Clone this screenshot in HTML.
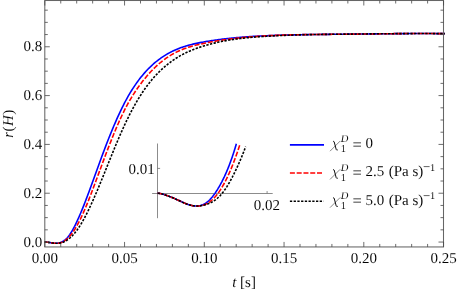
<!DOCTYPE html>
<html><head><meta charset="utf-8"><title>plot</title>
<style>html,body{margin:0;padding:0;background:#fff}svg{display:block;will-change:transform;opacity:0.999}text{text-rendering:geometricPrecision}.tx,.tx text,.tx tspan{font-family:"Liberation Serif",serif}</style></head>
<body>
<svg width="457" height="291" viewBox="0 0 457 291">
<rect width="457" height="291" fill="#fff"/>
<clipPath id="c"><rect x="44.0" y="0.5" width="400.8" height="246.45"/></clipPath>
<g fill="none" clip-path="url(#c)" stroke-linejoin="round">
<path d="M44.20,242.05 L44.80,242.05 L45.20,242.05 L45.60,242.07 L46.01,242.10 L46.41,242.14 L46.81,242.19 L47.21,242.24 L47.61,242.28 L48.02,242.33 L48.42,242.38 L48.82,242.43 L49.22,242.49 L49.63,242.54 L50.03,242.60 L50.43,242.67 L50.83,242.73 L51.23,242.79 L51.64,242.86 L52.04,242.92 L52.44,242.98 L52.84,243.04 L53.24,243.09 L53.65,243.14 L54.05,243.19 L54.45,243.23 L54.85,243.26 L55.25,243.28 L55.66,243.30 L56.06,243.30 L56.46,243.30 L56.86,243.28 L57.27,243.25 L57.67,243.21 L58.07,243.15 L58.47,243.09 L58.87,243.00 L59.28,242.90 L59.68,242.78 L60.08,242.65 L60.48,242.50 L60.88,242.34 L61.29,242.16 L61.69,241.97 L62.09,241.76 L62.49,241.54 L62.89,241.31 L63.30,241.06 L63.70,240.80 L64.10,240.52 L64.50,240.24 L64.91,239.93 L65.31,239.61 L65.71,239.26 L66.11,238.90 L66.51,238.52 L66.92,238.11 L67.32,237.68 L67.72,237.23 L68.12,236.75 L68.52,236.25 L68.93,235.73 L69.33,235.18 L69.73,234.62 L70.13,234.03 L70.53,233.42 L70.94,232.80 L71.34,232.15 L71.74,231.49 L72.14,230.80 L72.54,230.11 L72.95,229.39 L73.35,228.66 L73.75,227.91 L74.15,227.14 L74.56,226.37 L74.96,225.57 L75.36,224.77 L75.76,223.95 L76.16,223.11 L76.57,222.27 L76.97,221.41 L77.37,220.55 L77.77,219.67 L78.17,218.78 L78.58,217.88 L78.98,216.97 L79.38,216.06 L79.78,215.13 L80.18,214.19 L80.59,213.24 L80.99,212.29 L81.39,211.32 L81.79,210.35 L82.20,209.37 L82.60,208.38 L83.00,207.38 L83.40,206.38 L83.80,205.36 L84.21,204.34 L84.61,203.32 L85.01,202.29 L85.41,201.25 L85.81,200.20 L86.22,199.15 L86.62,198.10 L87.02,197.04 L87.42,195.97 L87.82,194.90 L88.23,193.83 L88.63,192.75 L89.03,191.66 L89.43,190.57 L89.84,189.48 L90.24,188.39 L90.64,187.29 L91.04,186.19 L91.44,185.09 L91.85,183.98 L92.25,182.87 L92.65,181.77 L93.83,178.50 L95.01,175.23 L96.19,171.96 L97.37,168.69 L98.55,165.43 L99.73,162.19 L100.91,158.97 L102.09,155.77 L103.27,152.61 L104.45,149.48 L105.63,146.39 L106.81,143.32 L107.99,140.30 L109.17,137.32 L110.35,134.37 L111.53,131.48 L112.71,128.62 L113.89,125.81 L115.07,123.06 L116.25,120.35 L117.43,117.69 L118.61,115.09 L119.79,112.55 L120.97,110.06 L122.15,107.64 L123.33,105.28 L124.51,102.98 L125.69,100.75 L126.87,98.58 L128.05,96.47 L129.23,94.43 L130.41,92.45 L131.59,90.53 L132.77,88.66 L133.95,86.85 L135.13,85.10 L136.31,83.40 L137.49,81.75 L138.67,80.15 L139.85,78.60 L141.03,77.10 L142.21,75.65 L143.39,74.24 L144.57,72.88 L145.75,71.56 L146.93,70.28 L148.11,69.05 L149.29,67.86 L150.47,66.70 L151.65,65.59 L152.83,64.51 L154.01,63.47 L155.19,62.47 L156.37,61.50 L157.55,60.56 L158.73,59.66 L159.91,58.79 L161.09,57.95 L162.27,57.14 L163.45,56.36 L164.63,55.61 L165.81,54.88 L166.99,54.18 L168.17,53.51 L169.35,52.86 L170.53,52.24 L171.71,51.64 L172.89,51.06 L174.07,50.51 L175.25,49.98 L176.43,49.47 L177.61,48.98 L178.79,48.51 L179.97,48.05 L181.15,47.62 L182.33,47.20 L183.51,46.81 L184.69,46.42 L185.87,46.06 L187.05,45.70 L188.23,45.37 L189.41,45.04 L190.59,44.73 L191.77,44.43 L192.95,44.15 L194.13,43.87 L195.31,43.61 L196.49,43.35 L197.67,43.10 L198.85,42.86 L200.03,42.63 L201.21,42.41 L202.39,42.19 L203.57,41.98 L204.75,41.77 L205.93,41.57 L207.11,41.37 L208.29,41.17 L209.47,40.98 L210.65,40.80 L211.83,40.62 L213.01,40.44 L214.19,40.26 L215.37,40.10 L216.55,39.93 L217.73,39.77 L218.91,39.61 L220.09,39.46 L221.27,39.30 L222.45,39.16 L223.63,39.01 L224.81,38.87 L225.99,38.74 L227.17,38.60 L228.35,38.47 L229.53,38.35 L230.71,38.23 L231.89,38.10 L233.07,37.99 L234.25,37.87 L235.43,37.76 L236.61,37.66 L237.79,37.55 L238.97,37.45 L240.15,37.35 L241.33,37.25 L242.51,37.16 L243.69,37.07 L244.87,36.98 L246.05,36.89 L247.23,36.81 L248.41,36.73 L249.59,36.65 L250.77,36.57 L251.95,36.49 L253.13,36.42 L254.31,36.35 L255.49,36.28 L256.67,36.21 L257.85,36.15 L259.03,36.09 L260.21,36.03 L261.39,35.97 L262.57,35.91 L263.75,35.85 L264.93,35.80 L266.11,35.74 L267.29,35.69 L268.47,35.64 L269.65,35.59 L270.83,35.55 L272.01,35.50 L273.19,35.45 L274.37,35.41 L275.55,35.37 L276.73,35.33 L277.91,35.29 L279.09,35.25 L280.27,35.21 L281.45,35.17 L282.63,35.14 L283.81,35.10 L284.99,35.07 L286.17,35.04 L287.35,35.00 L288.53,34.97 L289.71,34.94 L290.89,34.91 L292.07,34.89 L293.25,34.86 L294.43,34.83 L295.61,34.81 L296.79,34.78 L297.97,34.76 L299.15,34.74 L300.33,34.71 L301.51,34.69 L302.69,34.67 L303.87,34.65 L305.05,34.63 L306.23,34.61 L307.41,34.60 L308.59,34.58 L309.77,34.56 L310.95,34.54 L312.13,34.53 L313.31,34.51 L314.49,34.50 L315.67,34.48 L316.85,34.47 L318.03,34.45 L319.21,34.44 L320.39,34.43 L321.57,34.41 L322.75,34.40 L323.93,34.39 L325.11,34.38 L326.29,34.37 L327.47,34.35 L328.65,34.34 L329.83,34.33 L331.01,34.32 L332.19,34.31 L333.37,34.30 L334.55,34.29 L335.73,34.28 L336.91,34.27 L338.09,34.26 L339.27,34.24 L340.45,34.23 L341.63,34.22 L342.81,34.21 L343.99,34.20 L345.17,34.19 L346.35,34.18 L347.53,34.17 L348.71,34.16 L349.89,34.14 L351.07,34.13 L352.25,34.12 L353.43,34.11 L354.61,34.09 L355.79,34.08 L356.97,34.07 L358.15,34.06 L359.33,34.04 L360.51,34.03 L361.69,34.02 L362.87,34.00 L364.05,33.99 L365.23,33.98 L366.41,33.96 L367.59,33.95 L368.77,33.94 L369.95,33.92 L371.13,33.91 L372.31,33.90 L373.49,33.88 L374.67,33.87 L375.85,33.86 L377.03,33.84 L378.21,33.83 L379.39,33.82 L380.57,33.80 L381.75,33.79 L382.93,33.78 L384.11,33.77 L385.29,33.75 L386.47,33.74 L387.64,33.73 L388.82,33.72 L390.00,33.71 L391.18,33.70 L392.36,33.69 L393.54,33.68 L394.72,33.67 L395.90,33.66 L397.08,33.65 L398.26,33.64 L399.44,33.63 L400.62,33.62 L401.80,33.61 L402.98,33.60 L404.16,33.60 L405.34,33.59 L406.52,33.58 L407.70,33.58 L408.88,33.57 L410.06,33.56 L411.24,33.56 L412.42,33.55 L413.60,33.55 L414.78,33.55 L415.96,33.54 L417.14,33.54 L418.32,33.54 L419.50,33.54 L420.68,33.54 L421.86,33.54 L423.04,33.54 L424.22,33.54 L425.40,33.54 L426.58,33.54 L427.76,33.54 L428.94,33.55 L430.12,33.55 L431.30,33.55 L432.48,33.56 L433.66,33.57 L434.84,33.57 L436.02,33.58 L437.20,33.59 L438.38,33.60 L439.56,33.61 L440.74,33.62 L441.92,33.63 L443.10,33.64 L444.28,33.65 L445.46,33.67" stroke="#0000ff" stroke-width="1.6"/>
<path d="M44.20,242.05 L44.80,242.05 L45.20,242.05 L45.60,242.07 L46.01,242.10 L46.41,242.14 L46.81,242.19 L47.21,242.23 L47.61,242.28 L48.02,242.33 L48.42,242.38 L48.82,242.44 L49.22,242.49 L49.63,242.55 L50.03,242.61 L50.43,242.67 L50.83,242.73 L51.23,242.79 L51.64,242.86 L52.04,242.92 L52.44,242.98 L52.84,243.03 L53.24,243.09 L53.65,243.14 L54.05,243.18 L54.45,243.22 L54.85,243.25 L55.25,243.28 L55.66,243.29 L56.06,243.30 L56.46,243.31 L56.86,243.30 L57.27,243.28 L57.67,243.25 L58.07,243.22 L58.47,243.17 L58.87,243.11 L59.28,243.04 L59.68,242.96 L60.08,242.86 L60.48,242.75 L60.88,242.63 L61.29,242.49 L61.69,242.35 L62.09,242.18 L62.49,242.00 L62.89,241.81 L63.30,241.60 L63.70,241.38 L64.10,241.14 L64.50,240.89 L64.91,240.62 L65.31,240.34 L65.71,240.04 L66.11,239.73 L66.51,239.40 L66.92,239.05 L67.32,238.70 L67.72,238.32 L68.12,237.93 L68.52,237.53 L68.93,237.11 L69.33,236.68 L69.73,236.23 L70.13,235.77 L70.53,235.29 L70.94,234.79 L71.34,234.29 L71.74,233.76 L72.14,233.23 L72.54,232.68 L72.95,232.11 L73.35,231.53 L73.75,230.94 L74.15,230.33 L74.56,229.70 L74.96,229.07 L75.36,228.41 L75.76,227.75 L76.16,227.07 L76.57,226.37 L76.97,225.66 L77.37,224.94 L77.77,224.20 L78.17,223.45 L78.58,222.69 L78.98,221.92 L79.38,221.13 L79.78,220.33 L80.18,219.51 L80.59,218.69 L80.99,217.85 L81.39,217.00 L81.79,216.15 L82.20,215.28 L82.60,214.40 L83.00,213.51 L83.40,212.60 L83.80,211.69 L84.21,210.77 L84.61,209.85 L85.01,208.91 L85.41,207.96 L85.81,207.00 L86.22,206.04 L86.62,205.07 L87.02,204.09 L87.42,203.10 L87.82,202.11 L88.23,201.11 L88.63,200.10 L89.03,199.09 L89.43,198.07 L89.84,197.04 L90.24,196.01 L90.64,194.97 L91.04,193.93 L91.44,192.88 L91.85,191.83 L92.25,190.77 L92.65,189.71 L93.83,186.58 L95.01,183.42 L96.19,180.24 L97.37,177.05 L98.55,173.85 L99.73,170.65 L100.91,167.46 L102.09,164.28 L103.27,161.11 L104.45,157.96 L105.63,154.84 L106.81,151.73 L107.99,148.66 L109.17,145.61 L110.35,142.60 L111.53,139.62 L112.71,136.68 L113.89,133.79 L115.07,130.94 L116.25,128.14 L117.43,125.39 L118.61,122.70 L119.79,120.06 L120.97,117.49 L122.15,114.98 L123.33,112.53 L124.51,110.16 L125.69,107.85 L126.87,105.62 L128.05,103.46 L129.23,101.36 L130.41,99.32 L131.59,97.35 L132.77,95.43 L133.95,93.57 L135.13,91.76 L136.31,90.00 L137.49,88.28 L138.67,86.61 L139.85,84.99 L141.03,83.40 L142.21,81.85 L143.39,80.34 L144.57,78.87 L145.75,77.44 L146.93,76.04 L148.11,74.67 L149.29,73.35 L150.47,72.06 L151.65,70.81 L152.83,69.59 L154.01,68.40 L155.19,67.26 L156.37,66.14 L157.55,65.06 L158.73,64.02 L159.91,63.00 L161.09,62.03 L162.27,61.08 L163.45,60.17 L164.63,59.29 L165.81,58.44 L166.99,57.62 L168.17,56.84 L169.35,56.08 L170.53,55.35 L171.71,54.66 L172.89,53.98 L174.07,53.34 L175.25,52.72 L176.43,52.12 L177.61,51.55 L178.79,51.01 L179.97,50.48 L181.15,49.98 L182.33,49.49 L183.51,49.03 L184.69,48.59 L185.87,48.16 L187.05,47.75 L188.23,47.36 L189.41,46.99 L190.59,46.63 L191.77,46.28 L192.95,45.95 L194.13,45.63 L195.31,45.32 L196.49,45.02 L197.67,44.74 L198.85,44.46 L200.03,44.19 L201.21,43.93 L202.39,43.67 L203.57,43.42 L204.75,43.18 L205.93,42.94 L207.11,42.71 L208.29,42.48 L209.47,42.26 L210.65,42.04 L211.83,41.82 L213.01,41.61 L214.19,41.40 L215.37,41.20 L216.55,41.00 L217.73,40.81 L218.91,40.62 L220.09,40.44 L221.27,40.25 L222.45,40.08 L223.63,39.90 L224.81,39.73 L225.99,39.57 L227.17,39.41 L228.35,39.25 L229.53,39.09 L230.71,38.94 L231.89,38.80 L233.07,38.65 L234.25,38.51 L235.43,38.38 L236.61,38.24 L237.79,38.11 L238.97,37.99 L240.15,37.86 L241.33,37.74 L242.51,37.63 L243.69,37.51 L244.87,37.40 L246.05,37.29 L247.23,37.19 L248.41,37.09 L249.59,36.99 L250.77,36.89 L251.95,36.80 L253.13,36.70 L254.31,36.62 L255.49,36.53 L256.67,36.45 L257.85,36.36 L259.03,36.29 L260.21,36.21 L261.39,36.13 L262.57,36.06 L263.75,35.99 L264.93,35.92 L266.11,35.86 L267.29,35.79 L268.47,35.73 L269.65,35.67 L270.83,35.61 L272.01,35.56 L273.19,35.50 L274.37,35.45 L275.55,35.40 L276.73,35.35 L277.91,35.30 L279.09,35.26 L280.27,35.21 L281.45,35.17 L282.63,35.13 L283.81,35.09 L284.99,35.05 L286.17,35.01 L287.35,34.98 L288.53,34.94 L289.71,34.91 L290.89,34.88 L292.07,34.85 L293.25,34.82 L294.43,34.79 L295.61,34.77 L296.79,34.74 L297.97,34.72 L299.15,34.69 L300.33,34.67 L301.51,34.65 L302.69,34.63 L303.87,34.61 L305.05,34.59 L306.23,34.57 L307.41,34.56 L308.59,34.54 L309.77,34.52 L310.95,34.51 L312.13,34.49 L313.31,34.48 L314.49,34.47 L315.67,34.46 L316.85,34.44 L318.03,34.43 L319.21,34.42 L320.39,34.41 L321.57,34.40 L322.75,34.39 L323.93,34.38 L325.11,34.37 L326.29,34.36 L327.47,34.35 L328.65,34.35 L329.83,34.34 L331.01,34.33 L332.19,34.32 L333.37,34.31 L334.55,34.31 L335.73,34.30 L336.91,34.29 L338.09,34.28 L339.27,34.27 L340.45,34.26 L341.63,34.26 L342.81,34.25 L343.99,34.24 L345.17,34.23 L346.35,34.22 L347.53,34.21 L348.71,34.20 L349.89,34.19 L351.07,34.17 L352.25,34.16 L353.43,34.15 L354.61,34.14 L355.79,34.13 L356.97,34.11 L358.15,34.10 L359.33,34.09 L360.51,34.07 L361.69,34.06 L362.87,34.04 L364.05,34.03 L365.23,34.02 L366.41,34.00 L367.59,33.99 L368.77,33.97 L369.95,33.96 L371.13,33.94 L372.31,33.93 L373.49,33.91 L374.67,33.90 L375.85,33.88 L377.03,33.87 L378.21,33.85 L379.39,33.84 L380.57,33.82 L381.75,33.81 L382.93,33.79 L384.11,33.78 L385.29,33.76 L386.47,33.75 L387.64,33.74 L388.82,33.72 L390.00,33.71 L391.18,33.70 L392.36,33.68 L393.54,33.67 L394.72,33.66 L395.90,33.65 L397.08,33.63 L398.26,33.62 L399.44,33.61 L400.62,33.60 L401.80,33.59 L402.98,33.58 L404.16,33.57 L405.34,33.56 L406.52,33.56 L407.70,33.55 L408.88,33.54 L410.06,33.53 L411.24,33.53 L412.42,33.52 L413.60,33.52 L414.78,33.51 L415.96,33.51 L417.14,33.51 L418.32,33.51 L419.50,33.50 L420.68,33.50 L421.86,33.50 L423.04,33.50 L424.22,33.51 L425.40,33.51 L426.58,33.51 L427.76,33.52 L428.94,33.52 L430.12,33.53 L431.30,33.53 L432.48,33.54 L433.66,33.55 L434.84,33.56 L436.02,33.57 L437.20,33.58 L438.38,33.59 L439.56,33.61 L440.74,33.62 L441.92,33.64 L443.10,33.65 L444.28,33.67 L445.46,33.69" stroke="#ff0000" stroke-width="1.6" stroke-dasharray="5 1.775"/>
<path d="M44.20,242.05 L44.80,242.05 L45.20,242.05 L45.60,242.07 L46.01,242.10 L46.41,242.14 L46.81,242.19 L47.21,242.24 L47.61,242.28 L48.02,242.33 L48.42,242.38 L48.82,242.43 L49.22,242.49 L49.63,242.54 L50.03,242.60 L50.43,242.67 L50.83,242.73 L51.23,242.79 L51.64,242.86 L52.04,242.92 L52.44,242.98 L52.84,243.04 L53.24,243.09 L53.65,243.14 L54.05,243.19 L54.45,243.22 L54.85,243.25 L55.25,243.27 L55.66,243.29 L56.06,243.29 L56.46,243.29 L56.86,243.29 L57.27,243.27 L57.67,243.25 L58.07,243.22 L58.47,243.19 L58.87,243.15 L59.28,243.11 L59.68,243.06 L60.08,243.00 L60.48,242.94 L60.88,242.86 L61.29,242.78 L61.69,242.68 L62.09,242.58 L62.49,242.46 L62.89,242.32 L63.30,242.18 L63.70,242.01 L64.10,241.84 L64.50,241.64 L64.91,241.44 L65.31,241.22 L65.71,240.99 L66.11,240.75 L66.51,240.50 L66.92,240.24 L67.32,239.96 L67.72,239.68 L68.12,239.39 L68.52,239.08 L68.93,238.77 L69.33,238.45 L69.73,238.11 L70.13,237.77 L70.53,237.41 L70.94,237.05 L71.34,236.67 L71.74,236.28 L72.14,235.89 L72.54,235.48 L72.95,235.06 L73.35,234.62 L73.75,234.18 L74.15,233.72 L74.56,233.26 L74.96,232.78 L75.36,232.28 L75.76,231.78 L76.16,231.26 L76.57,230.74 L76.97,230.20 L77.37,229.64 L77.77,229.08 L78.17,228.50 L78.58,227.91 L78.98,227.31 L79.38,226.69 L79.78,226.07 L80.18,225.43 L80.59,224.79 L80.99,224.13 L81.39,223.46 L81.79,222.78 L82.20,222.09 L82.60,221.40 L83.00,220.69 L83.40,219.97 L83.80,219.24 L84.21,218.50 L84.61,217.75 L85.01,217.00 L85.41,216.23 L85.81,215.46 L86.22,214.67 L86.62,213.88 L87.02,213.08 L87.42,212.27 L87.82,211.46 L88.23,210.63 L88.63,209.80 L89.03,208.96 L89.43,208.12 L89.84,207.27 L90.24,206.41 L90.64,205.54 L91.04,204.67 L91.44,203.79 L91.85,202.90 L92.25,202.01 L92.65,201.11 L93.83,198.45 L95.01,195.74 L96.19,192.99 L97.37,190.21 L98.55,187.39 L99.73,184.55 L100.91,181.68 L102.09,178.80 L103.27,175.90 L104.45,172.99 L105.63,170.08 L106.81,167.16 L107.99,164.24 L109.17,161.32 L110.35,158.40 L111.53,155.50 L112.71,152.61 L113.89,149.74 L115.07,146.88 L116.25,144.05 L117.43,141.25 L118.61,138.48 L119.79,135.74 L120.97,133.03 L122.15,130.37 L123.33,127.75 L124.51,125.18 L125.69,122.66 L126.87,120.19 L128.05,117.78 L129.23,115.41 L130.41,113.09 L131.59,110.83 L132.77,108.62 L133.95,106.46 L135.13,104.34 L136.31,102.29 L137.49,100.28 L138.67,98.32 L139.85,96.41 L141.03,94.56 L142.21,92.76 L143.39,91.00 L144.57,89.30 L145.75,87.64 L146.93,86.03 L148.11,84.46 L149.29,82.94 L150.47,81.47 L151.65,80.03 L152.83,78.64 L154.01,77.29 L155.19,75.98 L156.37,74.70 L157.55,73.47 L158.73,72.27 L159.91,71.10 L161.09,69.97 L162.27,68.88 L163.45,67.82 L164.63,66.78 L165.81,65.78 L166.99,64.81 L168.17,63.87 L169.35,62.96 L170.53,62.07 L171.71,61.21 L172.89,60.38 L174.07,59.57 L175.25,58.79 L176.43,58.04 L177.61,57.31 L178.79,56.60 L179.97,55.91 L181.15,55.25 L182.33,54.61 L183.51,53.99 L184.69,53.39 L185.87,52.81 L187.05,52.25 L188.23,51.70 L189.41,51.18 L190.59,50.67 L191.77,50.18 L192.95,49.70 L194.13,49.24 L195.31,48.79 L196.49,48.36 L197.67,47.94 L198.85,47.53 L200.03,47.13 L201.21,46.75 L202.39,46.38 L203.57,46.01 L204.75,45.66 L205.93,45.31 L207.11,44.98 L208.29,44.65 L209.47,44.33 L210.65,44.02 L211.83,43.71 L213.01,43.42 L214.19,43.13 L215.37,42.85 L216.55,42.58 L217.73,42.31 L218.91,42.06 L220.09,41.81 L221.27,41.56 L222.45,41.33 L223.63,41.10 L224.81,40.88 L225.99,40.66 L227.17,40.45 L228.35,40.25 L229.53,40.05 L230.71,39.86 L231.89,39.68 L233.07,39.50 L234.25,39.32 L235.43,39.16 L236.61,38.99 L237.79,38.84 L238.97,38.68 L240.15,38.54 L241.33,38.39 L242.51,38.26 L243.69,38.12 L244.87,38.00 L246.05,37.87 L247.23,37.75 L248.41,37.64 L249.59,37.52 L250.77,37.41 L251.95,37.31 L253.13,37.21 L254.31,37.11 L255.49,37.02 L256.67,36.93 L257.85,36.84 L259.03,36.75 L260.21,36.67 L261.39,36.59 L262.57,36.51 L263.75,36.43 L264.93,36.36 L266.11,36.29 L267.29,36.22 L268.47,36.15 L269.65,36.09 L270.83,36.02 L272.01,35.96 L273.19,35.90 L274.37,35.84 L275.55,35.78 L276.73,35.72 L277.91,35.67 L279.09,35.61 L280.27,35.56 L281.45,35.51 L282.63,35.46 L283.81,35.41 L284.99,35.37 L286.17,35.32 L287.35,35.28 L288.53,35.23 L289.71,35.19 L290.89,35.15 L292.07,35.11 L293.25,35.07 L294.43,35.04 L295.61,35.00 L296.79,34.96 L297.97,34.93 L299.15,34.90 L300.33,34.87 L301.51,34.84 L302.69,34.81 L303.87,34.78 L305.05,34.75 L306.23,34.72 L307.41,34.70 L308.59,34.67 L309.77,34.65 L310.95,34.62 L312.13,34.60 L313.31,34.58 L314.49,34.55 L315.67,34.53 L316.85,34.51 L318.03,34.49 L319.21,34.47 L320.39,34.46 L321.57,34.44 L322.75,34.42 L323.93,34.40 L325.11,34.39 L326.29,34.37 L327.47,34.35 L328.65,34.34 L329.83,34.32 L331.01,34.31 L332.19,34.30 L333.37,34.28 L334.55,34.27 L335.73,34.25 L336.91,34.24 L338.09,34.23 L339.27,34.22 L340.45,34.20 L341.63,34.19 L342.81,34.18 L343.99,34.16 L345.17,34.15 L346.35,34.14 L347.53,34.13 L348.71,34.12 L349.89,34.10 L351.07,34.09 L352.25,34.08 L353.43,34.06 L354.61,34.05 L355.79,34.04 L356.97,34.03 L358.15,34.01 L359.33,34.00 L360.51,33.99 L361.69,33.98 L362.87,33.96 L364.05,33.95 L365.23,33.94 L366.41,33.93 L367.59,33.92 L368.77,33.90 L369.95,33.89 L371.13,33.88 L372.31,33.87 L373.49,33.86 L374.67,33.84 L375.85,33.83 L377.03,33.82 L378.21,33.81 L379.39,33.80 L380.57,33.79 L381.75,33.78 L382.93,33.77 L384.11,33.76 L385.29,33.75 L386.47,33.74 L387.64,33.73 L388.82,33.72 L390.00,33.71 L391.18,33.70 L392.36,33.69 L393.54,33.68 L394.72,33.67 L395.90,33.66 L397.08,33.66 L398.26,33.65 L399.44,33.64 L400.62,33.63 L401.80,33.63 L402.98,33.62 L404.16,33.61 L405.34,33.61 L406.52,33.60 L407.70,33.60 L408.88,33.59 L410.06,33.59 L411.24,33.58 L412.42,33.58 L413.60,33.58 L414.78,33.57 L415.96,33.57 L417.14,33.57 L418.32,33.57 L419.50,33.56 L420.68,33.56 L421.86,33.56 L423.04,33.56 L424.22,33.56 L425.40,33.56 L426.58,33.56 L427.76,33.57 L428.94,33.57 L430.12,33.57 L431.30,33.57 L432.48,33.58 L433.66,33.58 L434.84,33.58 L436.02,33.59 L437.20,33.59 L438.38,33.60 L439.56,33.61 L440.74,33.61 L441.92,33.62 L443.10,33.63 L444.28,33.64 L445.46,33.65" stroke="#000" stroke-width="1.6" stroke-dasharray="2.3 1.425"/>
</g>
<g stroke="#666" stroke-width="1.05" fill="none">
<rect x="44.8" y="0.5" width="398.7" height="246.45"/>
<path d="M44.80,246.95v-5.0M44.80,0.5v5.0M60.75,246.95v-3.0M60.75,0.5v3.0M76.70,246.95v-3.0M76.70,0.5v3.0M92.65,246.95v-3.0M92.65,0.5v3.0M108.60,246.95v-3.0M108.60,0.5v3.0M124.55,246.95v-5.0M124.55,0.5v5.0M140.50,246.95v-3.0M140.50,0.5v3.0M156.45,246.95v-3.0M156.45,0.5v3.0M172.40,246.95v-3.0M172.40,0.5v3.0M188.35,246.95v-3.0M188.35,0.5v3.0M204.30,246.95v-5.0M204.30,0.5v5.0M220.25,246.95v-3.0M220.25,0.5v3.0M236.20,246.95v-3.0M236.20,0.5v3.0M252.15,246.95v-3.0M252.15,0.5v3.0M268.10,246.95v-3.0M268.10,0.5v3.0M284.05,246.95v-5.0M284.05,0.5v5.0M300.00,246.95v-3.0M300.00,0.5v3.0M315.95,246.95v-3.0M315.95,0.5v3.0M331.90,246.95v-3.0M331.90,0.5v3.0M347.85,246.95v-3.0M347.85,0.5v3.0M363.80,246.95v-5.0M363.80,0.5v5.0M379.75,246.95v-3.0M379.75,0.5v3.0M395.70,246.95v-3.0M395.70,0.5v3.0M411.65,246.95v-3.0M411.65,0.5v3.0M427.60,246.95v-3.0M427.60,0.5v3.0M443.55,246.95v-5.0M443.55,0.5v5.0M44.8,242.05h5.0M443.5,242.05h-5.0M44.8,229.84h3.0M443.5,229.84h-3.0M44.8,217.64h3.0M443.5,217.64h-3.0M44.8,205.44h3.0M443.5,205.44h-3.0M44.8,193.23h5.0M443.5,193.23h-5.0M44.8,181.03h3.0M443.5,181.03h-3.0M44.8,168.82h3.0M443.5,168.82h-3.0M44.8,156.62h3.0M443.5,156.62h-3.0M44.8,144.41h5.0M443.5,144.41h-5.0M44.8,132.21h3.0M443.5,132.21h-3.0M44.8,120.00h3.0M443.5,120.00h-3.0M44.8,107.80h3.0M443.5,107.80h-3.0M44.8,95.59h5.0M443.5,95.59h-5.0M44.8,83.39h3.0M443.5,83.39h-3.0M44.8,71.18h3.0M443.5,71.18h-3.0M44.8,58.98h3.0M443.5,58.98h-3.0M44.8,46.77h5.0M443.5,46.77h-5.0M44.8,34.56h3.0M443.5,34.56h-3.0M44.8,22.36h3.0M443.5,22.36h-3.0M44.8,10.16h3.0M443.5,10.16h-3.0" stroke-width="0.8" stroke="#484848"/>
</g>
<g stroke="#666" stroke-width="0.75" fill="none">
<path d="M157.5,143.5V218.2M152.1,193.5H272.7M157.6,168.40h2.5M267.10,193.3v-2.2"/>
</g>
<g fill="none" stroke-linejoin="round">
<path d="M157.60,193.30 L157.87,193.29 L158.15,193.29 L158.42,193.30 L158.70,193.31 L158.97,193.33 L159.25,193.36 L159.52,193.39 L159.80,193.43 L160.07,193.47 L160.34,193.52 L160.62,193.57 L160.89,193.63 L161.17,193.69 L161.44,193.76 L161.72,193.83 L161.99,193.90 L162.27,193.98 L162.54,194.06 L162.81,194.14 L163.09,194.23 L163.36,194.32 L163.64,194.41 L163.91,194.50 L164.19,194.59 L164.46,194.69 L164.74,194.78 L165.01,194.88 L165.28,194.98 L165.56,195.08 L165.83,195.18 L166.11,195.27 L166.38,195.37 L166.66,195.47 L166.93,195.57 L167.21,195.67 L167.48,195.77 L167.75,195.87 L168.03,195.96 L168.30,196.06 L168.58,196.16 L168.85,196.26 L169.13,196.36 L169.40,196.46 L169.68,196.57 L169.95,196.67 L170.22,196.77 L170.50,196.87 L170.77,196.98 L171.05,197.08 L171.32,197.19 L171.60,197.29 L171.87,197.40 L172.15,197.51 L172.42,197.62 L172.69,197.73 L172.97,197.84 L173.24,197.95 L173.52,198.07 L173.79,198.18 L174.07,198.30 L174.34,198.42 L174.62,198.54 L174.89,198.66 L175.16,198.78 L175.44,198.90 L175.71,199.02 L175.99,199.15 L176.26,199.27 L176.54,199.40 L176.81,199.53 L177.08,199.65 L177.36,199.78 L177.63,199.91 L177.91,200.04 L178.18,200.17 L178.46,200.30 L178.73,200.43 L179.01,200.56 L179.28,200.69 L179.55,200.82 L179.83,200.95 L180.10,201.08 L180.38,201.21 L180.65,201.34 L180.93,201.47 L181.20,201.59 L181.48,201.72 L181.75,201.85 L182.02,201.98 L182.30,202.10 L182.57,202.23 L182.85,202.35 L183.12,202.48 L183.40,202.60 L183.67,202.72 L183.95,202.85 L184.22,202.97 L184.49,203.08 L184.77,203.20 L185.04,203.32 L185.32,203.43 L185.59,203.55 L185.87,203.66 L186.14,203.77 L186.42,203.87 L186.69,203.98 L186.96,204.09 L187.24,204.19 L187.51,204.29 L187.79,204.39 L188.06,204.48 L188.34,204.58 L188.61,204.67 L188.89,204.76 L189.16,204.85 L189.43,204.93 L189.71,205.01 L189.98,205.09 L190.26,205.17 L190.53,205.25 L190.81,205.32 L191.08,205.39 L191.36,205.45 L191.63,205.51 L191.90,205.57 L192.18,205.63 L192.45,205.68 L192.73,205.73 L193.00,205.78 L193.28,205.82 L193.55,205.86 L193.83,205.90 L194.10,205.93 L194.37,205.96 L194.65,205.98 L194.92,206.01 L195.20,206.02 L195.47,206.04 L195.75,206.05 L196.02,206.05 L196.30,206.05 L196.57,206.05 L196.84,206.04 L197.12,206.03 L197.39,206.02 L197.67,206.00 L197.94,205.97 L198.22,205.94 L198.49,205.91 L198.77,205.87 L199.04,205.83 L199.31,205.78 L199.59,205.73 L199.86,205.67 L200.14,205.61 L200.41,205.54 L200.69,205.46 L200.96,205.39 L201.24,205.30 L201.51,205.21 L201.78,205.12 L202.06,205.02 L202.33,204.91 L202.61,204.80 L202.88,204.68 L203.16,204.56 L203.43,204.43 L203.71,204.30 L203.98,204.16 L204.25,204.01 L204.53,203.86 L204.80,203.70 L205.08,203.54 L205.35,203.37 L205.63,203.19 L205.90,203.01 L206.18,202.81 L206.45,202.62 L206.72,202.41 L207.00,202.21 L207.27,201.99 L207.55,201.77 L207.82,201.54 L208.10,201.30 L208.37,201.06 L208.65,200.81 L208.92,200.55 L209.19,200.29 L209.47,200.02 L209.74,199.74 L210.02,199.46 L210.29,199.17 L210.57,198.88 L210.84,198.58 L211.12,198.27 L211.39,197.96 L211.66,197.64 L211.94,197.32 L212.21,196.98 L212.49,196.65 L212.76,196.30 L213.04,195.96 L213.31,195.60 L213.58,195.24 L213.86,194.87 L214.13,194.50 L214.41,194.12 L214.68,193.74 L214.96,193.35 L215.23,192.95 L215.51,192.55 L215.78,192.14 L216.05,191.73 L216.33,191.31 L216.60,190.88 L216.88,190.45 L217.15,190.02 L217.43,189.58 L217.70,189.13 L217.98,188.68 L218.25,188.22 L218.52,187.76 L218.80,187.29 L219.07,186.82 L219.35,186.34 L219.62,185.86 L219.90,185.37 L220.17,184.88 L220.45,184.38 L220.72,183.87 L220.99,183.37 L221.27,182.85 L221.54,182.33 L221.82,181.81 L222.09,181.28 L222.37,180.74 L222.64,180.20 L222.92,179.65 L223.19,179.10 L223.46,178.54 L223.74,177.97 L224.01,177.40 L224.29,176.83 L224.56,176.24 L224.84,175.65 L225.11,175.05 L225.39,174.45 L225.66,173.84 L225.93,173.22 L226.21,172.60 L226.48,171.97 L226.76,171.33 L227.03,170.68 L227.31,170.03 L227.58,169.37 L227.86,168.70 L228.13,168.03 L228.40,167.34 L228.68,166.65 L228.95,165.96 L229.23,165.25 L229.50,164.53 L229.78,163.81 L230.05,163.08 L230.33,162.34 L230.60,161.59 L230.87,160.84 L231.15,160.07 L231.42,159.30 L231.70,158.52 L231.97,157.73 L232.25,156.93 L232.52,156.12 L232.80,155.30 L233.07,154.47 L233.34,153.63 L233.62,152.79 L233.89,151.93 L234.17,151.06 L234.44,150.19 L234.72,149.30 L234.99,148.41 L235.27,147.50 L235.54,146.59 L235.81,145.67 L236.09,144.73 L236.36,143.79" stroke="#0000ff" stroke-width="1.6"/>
<path d="M157.60,193.30 L157.87,193.30 L158.15,193.30 L158.42,193.31 L158.70,193.33 L158.97,193.35 L159.25,193.38 L159.52,193.41 L159.80,193.45 L160.07,193.49 L160.34,193.54 L160.62,193.59 L160.89,193.65 L161.17,193.71 L161.44,193.77 L161.72,193.84 L161.99,193.91 L162.27,193.99 L162.54,194.06 L162.81,194.14 L163.09,194.23 L163.36,194.31 L163.64,194.40 L163.91,194.49 L164.19,194.58 L164.46,194.67 L164.74,194.77 L165.01,194.86 L165.28,194.96 L165.56,195.06 L165.83,195.15 L166.11,195.25 L166.38,195.35 L166.66,195.45 L166.93,195.55 L167.21,195.65 L167.48,195.75 L167.75,195.85 L168.03,195.95 L168.30,196.05 L168.58,196.15 L168.85,196.25 L169.13,196.35 L169.40,196.46 L169.68,196.56 L169.95,196.67 L170.22,196.77 L170.50,196.88 L170.77,196.98 L171.05,197.09 L171.32,197.20 L171.60,197.31 L171.87,197.42 L172.15,197.53 L172.42,197.64 L172.69,197.75 L172.97,197.87 L173.24,197.98 L173.52,198.10 L173.79,198.21 L174.07,198.33 L174.34,198.45 L174.62,198.57 L174.89,198.69 L175.16,198.81 L175.44,198.93 L175.71,199.06 L175.99,199.18 L176.26,199.30 L176.54,199.43 L176.81,199.55 L177.08,199.68 L177.36,199.81 L177.63,199.93 L177.91,200.06 L178.18,200.19 L178.46,200.32 L178.73,200.44 L179.01,200.57 L179.28,200.70 L179.55,200.83 L179.83,200.95 L180.10,201.08 L180.38,201.21 L180.65,201.33 L180.93,201.46 L181.20,201.58 L181.48,201.71 L181.75,201.83 L182.02,201.96 L182.30,202.08 L182.57,202.20 L182.85,202.33 L183.12,202.45 L183.40,202.57 L183.67,202.69 L183.95,202.80 L184.22,202.92 L184.49,203.04 L184.77,203.15 L185.04,203.26 L185.32,203.38 L185.59,203.49 L185.87,203.60 L186.14,203.70 L186.42,203.81 L186.69,203.91 L186.96,204.02 L187.24,204.12 L187.51,204.22 L187.79,204.31 L188.06,204.41 L188.34,204.50 L188.61,204.59 L188.89,204.68 L189.16,204.77 L189.43,204.85 L189.71,204.93 L189.98,205.01 L190.26,205.09 L190.53,205.17 L190.81,205.24 L191.08,205.31 L191.36,205.37 L191.63,205.44 L191.90,205.50 L192.18,205.56 L192.45,205.62 L192.73,205.67 L193.00,205.72 L193.28,205.77 L193.55,205.81 L193.83,205.85 L194.10,205.89 L194.37,205.93 L194.65,205.96 L194.92,205.99 L195.20,206.02 L195.47,206.04 L195.75,206.06 L196.02,206.08 L196.30,206.09 L196.57,206.10 L196.84,206.10 L197.12,206.11 L197.39,206.11 L197.67,206.10 L197.94,206.09 L198.22,206.08 L198.49,206.07 L198.77,206.05 L199.04,206.03 L199.31,206.00 L199.59,205.97 L199.86,205.94 L200.14,205.90 L200.41,205.86 L200.69,205.81 L200.96,205.76 L201.24,205.71 L201.51,205.65 L201.78,205.59 L202.06,205.52 L202.33,205.45 L202.61,205.37 L202.88,205.29 L203.16,205.21 L203.43,205.12 L203.71,205.03 L203.98,204.93 L204.25,204.83 L204.53,204.73 L204.80,204.62 L205.08,204.50 L205.35,204.38 L205.63,204.26 L205.90,204.13 L206.18,203.99 L206.45,203.85 L206.72,203.71 L207.00,203.56 L207.27,203.41 L207.55,203.25 L207.82,203.09 L208.10,202.92 L208.37,202.74 L208.65,202.57 L208.92,202.38 L209.19,202.19 L209.47,202.00 L209.74,201.80 L210.02,201.60 L210.29,201.39 L210.57,201.17 L210.84,200.95 L211.12,200.73 L211.39,200.50 L211.66,200.26 L211.94,200.02 L212.21,199.77 L212.49,199.52 L212.76,199.26 L213.04,199.00 L213.31,198.73 L213.58,198.46 L213.86,198.18 L214.13,197.89 L214.41,197.60 L214.68,197.31 L214.96,197.01 L215.23,196.70 L215.51,196.38 L215.78,196.07 L216.05,195.74 L216.33,195.41 L216.60,195.08 L216.88,194.73 L217.15,194.39 L217.43,194.03 L217.70,193.67 L217.98,193.31 L218.25,192.94 L218.52,192.56 L218.80,192.18 L219.07,191.79 L219.35,191.40 L219.62,191.00 L219.90,190.59 L220.17,190.18 L220.45,189.76 L220.72,189.33 L220.99,188.90 L221.27,188.46 L221.54,188.02 L221.82,187.57 L222.09,187.12 L222.37,186.65 L222.64,186.19 L222.92,185.71 L223.19,185.23 L223.46,184.75 L223.74,184.25 L224.01,183.76 L224.29,183.25 L224.56,182.74 L224.84,182.22 L225.11,181.70 L225.39,181.17 L225.66,180.64 L225.93,180.10 L226.21,179.55 L226.48,179.00 L226.76,178.44 L227.03,177.87 L227.31,177.30 L227.58,176.72 L227.86,176.14 L228.13,175.55 L228.40,174.95 L228.68,174.35 L228.95,173.74 L229.23,173.13 L229.50,172.51 L229.78,171.88 L230.05,171.25 L230.33,170.61 L230.60,169.96 L230.87,169.31 L231.15,168.66 L231.42,167.99 L231.70,167.32 L231.97,166.65 L232.25,165.97 L232.52,165.28 L232.80,164.59 L233.07,163.89 L233.34,163.18 L233.62,162.47 L233.89,161.75 L234.17,161.03 L234.44,160.30 L234.72,159.56 L234.99,158.82 L235.27,158.07 L235.54,157.32 L235.81,156.56 L236.09,155.79 L236.36,155.02 L236.64,154.24 L236.91,153.46 L237.19,152.67 L237.46,151.87 L237.74,151.07 L238.01,150.26 L238.28,149.44 L238.56,148.62 L238.83,147.80 L239.11,146.96 L239.38,146.12 L239.66,145.28 L239.93,144.43 L240.21,143.57" stroke="#ff0000" stroke-width="1.6" stroke-dasharray="5 1.775"/>
<path d="M157.60,193.30 L157.87,193.29 L158.15,193.29 L158.42,193.30 L158.70,193.31 L158.97,193.33 L159.25,193.35 L159.52,193.38 L159.80,193.42 L160.07,193.46 L160.34,193.51 L160.62,193.57 L160.89,193.62 L161.17,193.69 L161.44,193.75 L161.72,193.82 L161.99,193.90 L162.27,193.98 L162.54,194.06 L162.81,194.14 L163.09,194.23 L163.36,194.32 L163.64,194.41 L163.91,194.50 L164.19,194.59 L164.46,194.69 L164.74,194.79 L165.01,194.88 L165.28,194.98 L165.56,195.08 L165.83,195.18 L166.11,195.28 L166.38,195.38 L166.66,195.48 L166.93,195.57 L167.21,195.67 L167.48,195.77 L167.75,195.87 L168.03,195.97 L168.30,196.07 L168.58,196.16 L168.85,196.26 L169.13,196.36 L169.40,196.46 L169.68,196.56 L169.95,196.67 L170.22,196.77 L170.50,196.87 L170.77,196.97 L171.05,197.08 L171.32,197.18 L171.60,197.29 L171.87,197.40 L172.15,197.50 L172.42,197.61 L172.69,197.72 L172.97,197.83 L173.24,197.95 L173.52,198.06 L173.79,198.18 L174.07,198.29 L174.34,198.41 L174.62,198.53 L174.89,198.65 L175.16,198.77 L175.44,198.90 L175.71,199.02 L175.99,199.15 L176.26,199.27 L176.54,199.40 L176.81,199.53 L177.08,199.65 L177.36,199.78 L177.63,199.91 L177.91,200.04 L178.18,200.17 L178.46,200.30 L178.73,200.43 L179.01,200.57 L179.28,200.70 L179.55,200.83 L179.83,200.96 L180.10,201.09 L180.38,201.22 L180.65,201.35 L180.93,201.48 L181.20,201.61 L181.48,201.74 L181.75,201.87 L182.02,202.00 L182.30,202.12 L182.57,202.25 L182.85,202.37 L183.12,202.50 L183.40,202.62 L183.67,202.74 L183.95,202.87 L184.22,202.98 L184.49,203.10 L184.77,203.22 L185.04,203.34 L185.32,203.45 L185.59,203.56 L185.87,203.67 L186.14,203.78 L186.42,203.89 L186.69,203.99 L186.96,204.09 L187.24,204.19 L187.51,204.29 L187.79,204.39 L188.06,204.48 L188.34,204.57 L188.61,204.66 L188.89,204.75 L189.16,204.83 L189.43,204.91 L189.71,204.99 L189.98,205.07 L190.26,205.14 L190.53,205.21 L190.81,205.28 L191.08,205.34 L191.36,205.40 L191.63,205.46 L191.90,205.51 L192.18,205.56 L192.45,205.61 L192.73,205.65 L193.00,205.70 L193.28,205.73 L193.55,205.77 L193.83,205.80 L194.10,205.83 L194.37,205.86 L194.65,205.89 L194.92,205.91 L195.20,205.93 L195.47,205.94 L195.75,205.96 L196.02,205.97 L196.30,205.97 L196.57,205.98 L196.84,205.98 L197.12,205.98 L197.39,205.98 L197.67,205.97 L197.94,205.96 L198.22,205.95 L198.49,205.93 L198.77,205.92 L199.04,205.90 L199.31,205.87 L199.59,205.85 L199.86,205.82 L200.14,205.79 L200.41,205.76 L200.69,205.72 L200.96,205.68 L201.24,205.64 L201.51,205.60 L201.78,205.55 L202.06,205.50 L202.33,205.45 L202.61,205.40 L202.88,205.34 L203.16,205.28 L203.43,205.22 L203.71,205.16 L203.98,205.09 L204.25,205.02 L204.53,204.95 L204.80,204.88 L205.08,204.80 L205.35,204.72 L205.63,204.64 L205.90,204.56 L206.18,204.48 L206.45,204.39 L206.72,204.30 L207.00,204.21 L207.27,204.11 L207.55,204.01 L207.82,203.92 L208.10,203.81 L208.37,203.71 L208.65,203.60 L208.92,203.49 L209.19,203.38 L209.47,203.26 L209.74,203.14 L210.02,203.02 L210.29,202.89 L210.57,202.77 L210.84,202.63 L211.12,202.50 L211.39,202.36 L211.66,202.22 L211.94,202.07 L212.21,201.92 L212.49,201.77 L212.76,201.61 L213.04,201.45 L213.31,201.28 L213.58,201.11 L213.86,200.94 L214.13,200.76 L214.41,200.58 L214.68,200.39 L214.96,200.20 L215.23,200.00 L215.51,199.80 L215.78,199.60 L216.05,199.39 L216.33,199.17 L216.60,198.95 L216.88,198.73 L217.15,198.50 L217.43,198.26 L217.70,198.02 L217.98,197.77 L218.25,197.52 L218.52,197.27 L218.80,197.00 L219.07,196.73 L219.35,196.46 L219.62,196.18 L219.90,195.90 L220.17,195.60 L220.45,195.31 L220.72,195.00 L220.99,194.69 L221.27,194.38 L221.54,194.05 L221.82,193.73 L222.09,193.39 L222.37,193.05 L222.64,192.71 L222.92,192.35 L223.19,192.00 L223.46,191.63 L223.74,191.26 L224.01,190.89 L224.29,190.51 L224.56,190.12 L224.84,189.73 L225.11,189.34 L225.39,188.93 L225.66,188.53 L225.93,188.11 L226.21,187.70 L226.48,187.27 L226.76,186.85 L227.03,186.41 L227.31,185.97 L227.58,185.53 L227.86,185.08 L228.13,184.63 L228.40,184.17 L228.68,183.70 L228.95,183.24 L229.23,182.76 L229.50,182.29 L229.78,181.80 L230.05,181.32 L230.33,180.82 L230.60,180.33 L230.87,179.83 L231.15,179.32 L231.42,178.81 L231.70,178.30 L231.97,177.78 L232.25,177.26 L232.52,176.73 L232.80,176.20 L233.07,175.66 L233.34,175.12 L233.62,174.58 L233.89,174.03 L234.17,173.48 L234.44,172.92 L234.72,172.36 L234.99,171.80 L235.27,171.23 L235.54,170.66 L235.81,170.09 L236.09,169.51 L236.36,168.92 L236.64,168.34 L236.91,167.75 L237.19,167.15 L237.46,166.55 L237.74,165.95 L238.01,165.34 L238.28,164.73 L238.56,164.11 L238.83,163.49 L239.11,162.87 L239.38,162.24 L239.66,161.61 L239.93,160.97 L240.21,160.33 L240.48,159.69 L240.75,159.04 L241.03,158.39 L241.30,157.73 L241.58,157.07 L241.85,156.41 L242.13,155.74 L242.40,155.06 L242.68,154.39 L242.95,153.70 L243.22,153.02 L243.50,152.33 L243.77,151.63 L244.05,150.93 L244.32,150.23 L244.60,149.52 L244.87,148.81 L245.15,148.10 L245.42,147.38 L245.69,146.65" stroke="#000" stroke-width="1.6" stroke-dasharray="2.3 1.425"/>
</g>
<g class="tx" font-size="15.0" fill="#000" stroke="#fff" stroke-width="0.05">
<text x="44.80" y="262.55" text-anchor="middle">0.00</text>
<text x="124.55" y="262.55" text-anchor="middle">0.05</text>
<text x="204.30" y="262.55" text-anchor="middle">0.10</text>
<text x="284.05" y="262.55" text-anchor="middle">0.15</text>
<text x="363.80" y="262.55" text-anchor="middle">0.20</text>
<text x="443.55" y="262.55" text-anchor="middle">0.25</text>
<text x="42.2" y="246.65" text-anchor="end">0.0</text>
<text x="42.2" y="197.83" text-anchor="end">0.2</text>
<text x="42.2" y="149.01" text-anchor="end">0.4</text>
<text x="42.2" y="100.19" text-anchor="end">0.6</text>
<text x="42.2" y="51.37" text-anchor="end">0.8</text>
<text x="244" y="286.8" text-anchor="middle"><tspan font-style="italic">t</tspan> [s]</text>
<text transform="translate(13.3,123.5) rotate(-90)" text-anchor="middle" letter-spacing="0.45"><tspan font-style="italic">r</tspan>(<tspan font-style="italic">H</tspan>)</text>
<text x="128.5" y="173.75">0.01</text>
<text x="253.7" y="209.6">0.02</text>
<g transform="translate(330,148.15)" fill="none" stroke="#000" stroke-linecap="round"><path d="M0.3,2.75 L9.9,-6.85" stroke-width="0.55" stroke="#222"/><path d="M3.2,-6.5 Q3.7,-7.3 4.15,-6.4 L6.2,1.3 Q6.5,2.3 7.4,1.9" stroke-width="0.95"/></g>
<text x="340.7" y="142.25" font-style="italic" font-size="10.5">D</text>
<text x="340.7" y="152.25" font-size="10.5">1</text>
<text x="352.4" y="149.75" font-size="16.5">=</text>
<text x="365.4" y="148.15">0</text>
<g transform="translate(330,176.40)" fill="none" stroke="#000" stroke-linecap="round"><path d="M0.3,2.75 L9.9,-6.85" stroke-width="0.55" stroke="#222"/><path d="M3.2,-6.5 Q3.7,-7.3 4.15,-6.4 L6.2,1.3 Q6.5,2.3 7.4,1.9" stroke-width="0.95"/></g>
<text x="340.7" y="170.50" font-style="italic" font-size="10.5">D</text>
<text x="340.7" y="180.50" font-size="10.5">1</text>
<text x="352.4" y="178.00" font-size="16.5">=</text>
<text x="365.4" y="176.4">2.5</text>
<text x="388.7" y="176.4">(Pa s)</text>
<text x="423.1" y="171.40" font-size="12.8">−</text>
<text x="430.1" y="171.10" font-size="10.3">1</text>
<g transform="translate(330,204.60)" fill="none" stroke="#000" stroke-linecap="round"><path d="M0.3,2.75 L9.9,-6.85" stroke-width="0.55" stroke="#222"/><path d="M3.2,-6.5 Q3.7,-7.3 4.15,-6.4 L6.2,1.3 Q6.5,2.3 7.4,1.9" stroke-width="0.95"/></g>
<text x="340.7" y="198.70" font-style="italic" font-size="10.5">D</text>
<text x="340.7" y="208.70" font-size="10.5">1</text>
<text x="352.4" y="206.20" font-size="16.5">=</text>
<text x="365.4" y="204.6">5.0</text>
<text x="388.7" y="204.6">(Pa s)</text>
<text x="423.1" y="199.60" font-size="12.8">−</text>
<text x="430.1" y="199.30" font-size="10.3">1</text>
</g>
<g fill="none">
<path d="M289.9,144.85H324" stroke="#0000ff" stroke-width="1.6"/>
<path d="M289.9,173.0H323.6" stroke="#ff0000" stroke-width="1.6" stroke-dasharray="5 1.775"/>
<path d="M289.9,201.25H323.6" stroke="#000" stroke-width="1.6" stroke-dasharray="2.3 1.425"/>
</g>
</svg>
</body></html>
